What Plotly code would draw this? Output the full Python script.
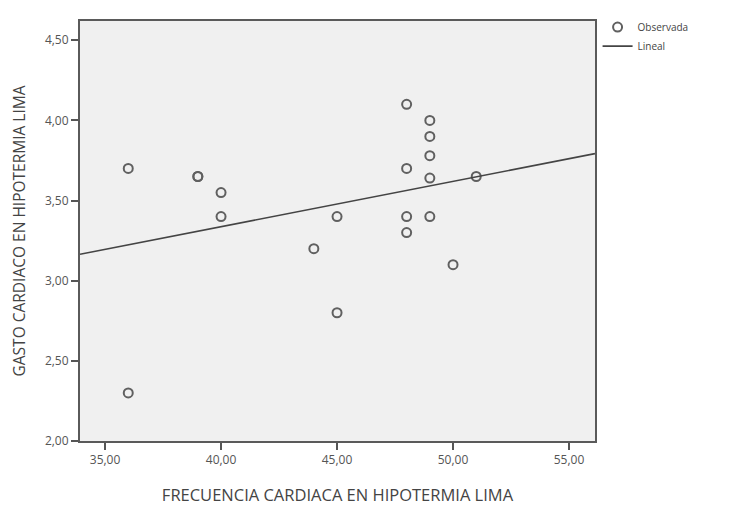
import numpy as np
import plotly.graph_objects as go

frecuencia = [36, 36, 39, 39, 40, 40, 44, 45, 45, 48, 48, 48, 48, 49, 49, 49, 49, 49, 50, 51]
gasto = [3.70, 2.30, 3.65, 3.65, 3.55, 3.40, 3.20, 3.40, 2.80, 4.10, 3.70, 3.40, 3.30,
         4.00, 3.90, 3.78, 3.64, 3.40, 3.10, 3.65]

x_range = [33.92, 56.12]
y_range = [2.0, 4.62]
x_ticks = [35, 40, 45, 50, 55]
y_ticks = [2.0, 2.5, 3.0, 3.5, 4.0, 4.5]

# Linear fit
slope, intercept = np.polyfit(frecuencia, gasto, 1)
fit_x = np.array(x_range)
fit_y = intercept + slope * fit_x

grey = "#555555"
font_family = "Open Sans, Liberation Sans, sans-serif"

fig = go.Figure()
fig.add_trace(go.Scatter(
    x=frecuencia, y=gasto, mode="markers", name="Observada",
    marker=dict(symbol="circle-open", size=9, color="#606060", line=dict(width=2)),
))
fig.add_trace(go.Scatter(
    x=fit_x, y=fit_y, mode="lines", name="Lineal",
    line=dict(color="#444444", width=1.6),
))

# page body has an 8px margin, so the figure is sized/offset accordingly
fig.update_layout(
    width=727, height=499,
    margin=dict(l=72, r=140, t=5, b=66),
    paper_bgcolor="white",
    plot_bgcolor="#f0f0f0",
    separators=",.",
    font=dict(family=font_family, color=grey, size=12),
    showlegend=True,
    legend=dict(x=1.005, y=1.02, xanchor="left", yanchor="top",
                font=dict(size=10, color="#444444"),
                bgcolor="rgba(0,0,0,0)", tracegroupgap=0),
    xaxis=dict(
        range=x_range, tickvals=x_ticks, tickformat=".2f",
        showgrid=False, zeroline=False, automargin=False,
        showline=True, mirror=True, linecolor="#5a5a5a", linewidth=2,
        ticks="outside", ticklen=7, tickwidth=1.5, tickcolor="#555555",
        tickfont=dict(size=12, color=grey),
        title=dict(text="FRECUENCIA CARDIACA EN HIPOTERMIA LIMA",
                   font=dict(size=16.5, color="#444444"), standoff=22),
    ),
    yaxis=dict(
        range=y_range, tickvals=y_ticks, tickformat=".2f",
        showgrid=False, zeroline=False, automargin=False,
        showline=True, mirror=True, linecolor="#5a5a5a", linewidth=2,
        ticks="outside", ticklen=7, tickwidth=1.5, tickcolor="#555555",
        tickfont=dict(size=12, color=grey),
        title=dict(text="GASTO CARDIACO EN HIPOTERMIA LIMA",
                   font=dict(size=15.5, color="#444444"), standoff=26),
    ),
)

fig.write_html("out.html")
